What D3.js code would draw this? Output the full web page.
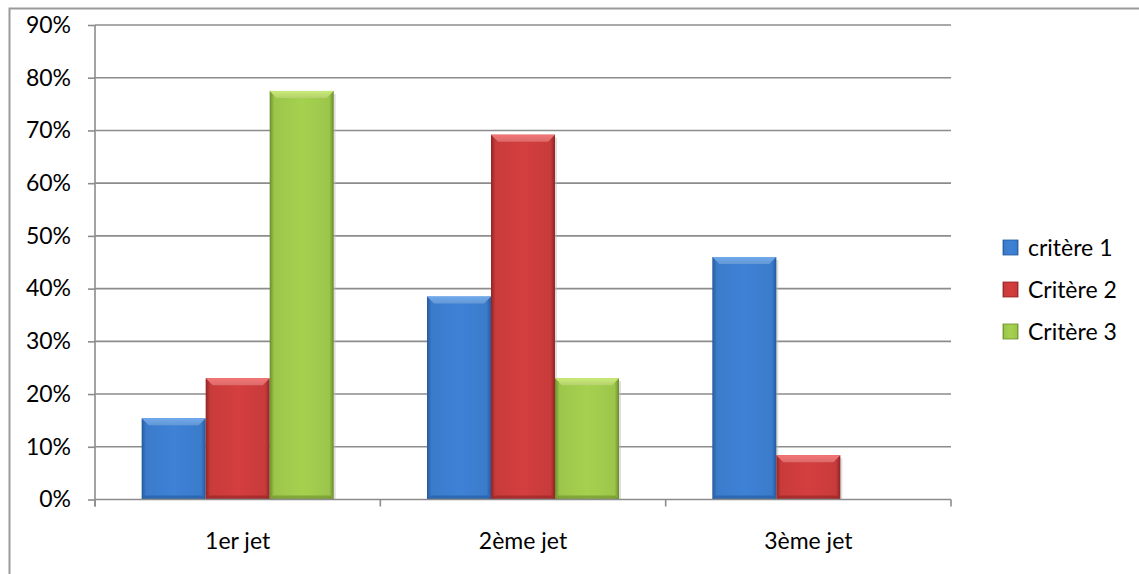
<!DOCTYPE html>
<html>
<head>
<meta charset="utf-8">
<script src="https://cdn.jsdelivr.net/npm/d3@7/dist/d3.min.js"></script>
<style>
  html, body { margin: 0; padding: 0; background: #fff; }
  svg { display: block; }
  text { font-family: Lato, "Open Sans", "Liberation Sans", sans-serif; fill: #000; }
</style>
</head>
<body>
<svg id="chart" width="1139" height="574"></svg>
<script>
// Categories and series
const categories = ["1er jet", "2ème jet", "3ème jet"];
const seriesNames = ["critère 1", "Critère 2", "Critère 3"];
const critere1 = [15.4, 38.5, 46.0];
const critere2 = [23.0, 69.2, 8.4];
const critere3 = [77.5, 23.0, null];
const yTicks = [0, 10, 20, 30, 40, 50, 60, 70, 80, 90];

const seriesValues = [critere1, critere2, critere3];
const palette = [
  { base: "#3b7bcb", light: "#6fa9ec", dark: "#255a9c" },
  { base: "#c93b3b", light: "#f47676", dark: "#8f2525" },
  { base: "#9cc64b", light: "#c9ea78", dark: "#6b8d2c" }
];

const svg = d3.select("#chart");
const W = 1139, H = 574;
const plot = { left: 95, right: 951, top: 25, bottom: 499.5 };
const FONT = 23;

// Outer chart border
svg.append("rect")
  .attr("x", 9.5).attr("y", 8.5)
  .attr("width", W + 10).attr("height", H + 10)
  .attr("fill", "none").attr("stroke", "#9a9a9a").attr("stroke-width", 2);

const x = d3.scaleBand().domain(categories)
  .range([plot.left, plot.right])
  .paddingInner(0.327).paddingOuter(0.1635);
const xs = d3.scaleBand().domain(d3.range(seriesNames.length))
  .range([0, x.bandwidth()]);
const y = d3.scaleLinear().domain([0, 90]).range([plot.bottom, plot.top]);

// Gradients for the bevelled bars
const defs = svg.append("defs");
palette.forEach((c, i) => {
  const g = defs.append("linearGradient").attr("id", "body" + i)
    .attr("x1", 0).attr("x2", 1).attr("y1", 0).attr("y2", 0);
  g.append("stop").attr("offset", "0%").attr("stop-color", c.dark);
  g.append("stop").attr("offset", "7%").attr("stop-color", c.base);
  g.append("stop").attr("offset", "50%").attr("stop-color", d3.color(c.base).brighter(0.15));
  g.append("stop").attr("offset", "93%").attr("stop-color", c.base);
  g.append("stop").attr("offset", "100%").attr("stop-color", c.dark);
  const v = defs.append("linearGradient").attr("id", "top" + i)
    .attr("x1", 0).attr("x2", 0).attr("y1", 0).attr("y2", 1);
  v.append("stop").attr("offset", "0%").attr("stop-color", c.light);
  v.append("stop").attr("offset", "100%").attr("stop-color", d3.color(c.light).darker(0.3));
});

// Horizontal gridlines
svg.append("g").selectAll("line").data(yTicks.filter(t => t > 0)).join("line")
  .attr("x1", plot.left).attr("x2", plot.right)
  .attr("y1", d => y(d)).attr("y2", d => y(d))
  .attr("stroke", "#8c8c8c").attr("stroke-width", 1.6);

// Y axis
const yAxis = d3.axisLeft(y).tickValues(yTicks).tickSize(7).tickPadding(17)
  .tickFormat(d => d + "%");
const gy = svg.append("g").attr("transform", `translate(${plot.left},0)`).call(yAxis);
gy.select(".domain").attr("stroke", "#8c8c8c").attr("stroke-width", 1.6)
  .attr("d", `M0,${plot.bottom + 7}V${plot.top}`);
gy.selectAll(".tick line").attr("stroke", "#8c8c8c").attr("stroke-width", 1.6);
gy.selectAll(".tick text").attr("font-size", FONT).attr("fill", "#000")
  .style("font-family", "Lato, 'Open Sans', sans-serif");

// Bars
const barData = [];
categories.forEach((cat, ci) => {
  seriesValues.forEach((vals, si) => {
    if (vals[ci] != null) barData.push({ cat, si, v: vals[ci] });
  });
});

const bars = svg.append("g").selectAll("g").data(barData).join("g");
// soft grainy shadow to the right
bars.append("rect")
  .attr("x", d => x(d.cat) + xs(d.si) + 2)
  .attr("y", d => y(d.v) + 3)
  .attr("width", xs.bandwidth())
  .attr("height", d => plot.bottom - y(d.v) - 3)
  .attr("fill", "#b8b8b8").attr("opacity", 0.45);
bars.append("rect")
  .attr("x", d => x(d.cat) + xs(d.si))
  .attr("y", d => y(d.v))
  .attr("width", xs.bandwidth())
  .attr("height", d => plot.bottom - y(d.v))
  .attr("fill", d => `url(#body${d.si})`);
// bevelled top edge
bars.append("path")
  .attr("d", d => {
    const x0 = x(d.cat) + xs(d.si), x1 = x0 + xs.bandwidth();
    const t = y(d.v), b = 7;
    return `M${x0},${t}H${x1}L${x1 - b},${t + b}H${x0 + b}Z`;
  })
  .attr("fill", d => `url(#top${d.si})`);
// darker bottom edge
bars.append("path")
  .attr("d", d => {
    const x0 = x(d.cat) + xs(d.si), x1 = x0 + xs.bandwidth();
    const bt = plot.bottom, b = 4;
    return `M${x0},${bt}H${x1}L${x1 - b},${bt - b}H${x0 + b}Z`;
  })
  .attr("fill", d => palette[d.si].dark).attr("opacity", 0.6);

// X axis line with category separators
const bounds = [plot.left, ...categories.map(c => x(c) + x.bandwidth() + (x.step() - x.bandwidth()) / 2)];
svg.append("line")
  .attr("x1", plot.left).attr("x2", plot.right)
  .attr("y1", plot.bottom).attr("y2", plot.bottom)
  .attr("stroke", "#8c8c8c").attr("stroke-width", 1.6);
svg.append("g").selectAll("line").data(bounds).join("line")
  .attr("x1", d => d).attr("x2", d => d)
  .attr("y1", plot.bottom).attr("y2", plot.bottom + 7)
  .attr("stroke", "#8c8c8c").attr("stroke-width", 1.6);

svg.append("g").selectAll("text").data(categories).join("text")
  .attr("x", d => x(d) + x.bandwidth() / 2)
  .attr("y", 549)
  .attr("text-anchor", "middle")
  .attr("font-size", FONT)
  .text(d => d);

// Legend
const legend = svg.append("g").selectAll("g").data(seriesNames).join("g")
  .attr("transform", (d, i) => `translate(1003,${240 + i * 42})`);
legend.append("rect").attr("width", 15).attr("height", 15)
  .attr("fill", (d, i) => `url(#body${i})`)
  .attr("stroke", (d, i) => palette[i].dark).attr("stroke-width", 0.8);
legend.append("text").attr("x", 25).attr("y", 16)
  .attr("font-size", FONT).text(d => d);
</script>
</body>
</html>
